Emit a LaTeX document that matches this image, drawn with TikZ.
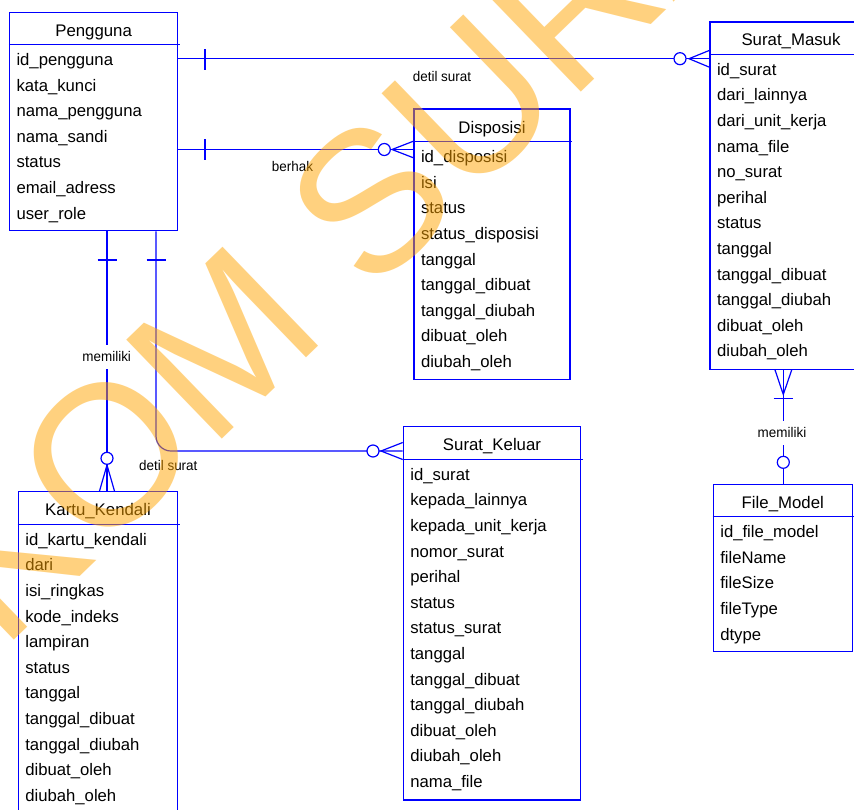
\documentclass[tikz,border=0pt]{standalone}
\usepackage{fontspec}
\setmainfont{Liberation Sans}
\newfontfamily\lblfont[FakeStretch=0.96]{Liberation Sans}
\definecolor{erblue}{RGB}{0,0,255}
\definecolor{wmark}{RGB}{255,165,0}

\newcommand\erentity[8]{%
  \node[ent, minimum width={#4-#2}, minimum height={#5-#3}] (#1) at ({(#2+#4)/2},{(#3+#5)/2}) {};
  \draw[rel] (#1.west |- 0,#6) -- ({#4+2},#6);
  \node[ttl] (#1-title) at ({(#2+#4)/2},{#6-8.5}) {#7};
  \foreach \a [count=\i from 0] in {#8} {\node[attr] (#1-a\i) at ({#2+6.8},{#6+21+\i*25.6}) {\a};}
}

\begin{document}
\begin{tikzpicture}[x=1pt,y=-1pt,
  ent/.style={draw=erblue, line width=1.2pt, inner sep=0pt},
  rel/.style={draw=erblue, line width=1.2pt},
  ttl/.style={anchor=base, inner sep=0pt, font=\fontsize{16.8}{18}\selectfont},
  attr/.style={anchor=base west, inner sep=0pt, font=\fontsize{16.7}{18}\selectfont},
  lbl/.style={inner sep=0pt, font=\lblfont\fontsize{14}{16}\selectfont},
  lblbg/.style={lbl, fill=white, inner ysep=7pt, inner xsep=1pt},
  ]
\useasboundingbox (0,0) rectangle (854,809);
\fill[white] (0,0) rectangle (854,809);

% entities
\erentity{pengguna}{9.5}{12.7}{177.7}{230.7}{44.5}{Pengguna}%
  {id\_pengguna,kata\_kunci,nama\_pengguna,nama\_sandi,status,email\_adress,user\_role}
\erentity{masuk}{710}{22}{872}{369.3}{54.3}{Surat\_Masuk}%
  {id\_surat,dari\_lainnya,dari\_unit\_kerja,nama\_file,no\_surat,perihal,status,tanggal,tanggal\_dibuat,tanggal\_diubah,dibuat\_oleh,diubah\_oleh}
\erentity{dispo}{414}{109}{570}{379.3}{141.7}{Disposisi}%
  {id\_disposisi,isi,status,status\_disposisi,tanggal,tanggal\_dibuat,tanggal\_diubah,dibuat\_oleh,diubah\_oleh}
\erentity{kartu}{18.3}{491.7}{177.7}{830}{524.3}{Kartu\_Kendali}%
  {id\_kartu\_kendali,dari,isi\_ringkas,kode\_indeks,lampiran,status,tanggal,tanggal\_dibuat,tanggal\_diubah,dibuat\_oleh,diubah\_oleh}
\erentity{keluar}{403.3}{426.7}{580.7}{800}{459.3}{Surat\_Keluar}%
  {id\_surat,kepada\_lainnya,kepada\_unit\_kerja,nomor\_surat,perihal,status,status\_surat,tanggal,tanggal\_dibuat,tanggal\_diubah,dibuat\_oleh,diubah\_oleh,nama\_file}
\erentity{filem}{713.3}{484.3}{852.3}{651.7}{516.7}{File\_Model}%
  {id\_file\_model,fileName,fileSize,fileType,dtype}

% connector 1: Pengguna - Surat_Masuk
\coordinate (r1o) at (680,58.7);
\coordinate (r1t) at (689,58.7);
\coordinate (r1b) at (205,59.5);
\draw[rel] (pengguna.east |- r1o) -- (masuk.west |- r1o);
\draw[rel] ([yshift=10.5pt]r1b) -- ([yshift=-10.5pt]r1b);
\draw[rel] (masuk.west |- 0,50.4) -- (r1t) -- (masuk.west |- 0,67.2);
\draw[rel, fill=white] (r1o) circle[radius=6];
\node[lbl] (l1) at (442,76.5) {detil surat};

% connector 2: Pengguna - Disposisi
\coordinate (r2o) at (384.3,149.5);
\coordinate (r2t) at (392,149.5);
\coordinate (r2b) at (205,149.8);
\draw[rel] (pengguna.east |- r2o) -- (dispo.west |- r2o);
\draw[rel] ([yshift=10.5pt]r2b) -- ([yshift=-10.5pt]r2b);
\draw[rel] (dispo.west |- 0,141.2) -- (r2t) -- (dispo.west |- 0,157.8);
\draw[rel, fill=white] (r2o) circle[radius=6];
\node[lbl] (l2) at (292.5,166.5) {berhak};

% connector 3: Pengguna - Kartu_Kendali
\coordinate (r3o) at (107,458.3);
\coordinate (r3t) at (107,465);
\coordinate (r3b) at (107,260);
\draw[rel] (pengguna.south -| r3o) -- (kartu.north -| r3o);
\draw[rel] ([xshift=-9.5pt]r3b) -- ([xshift=9.5pt]r3b);
\draw[rel] (kartu.north -| 99.5,0) -- (r3t) -- (kartu.north -| 114.5,0);
\node[lblbg] (l3) at (106.7,356.7) {memiliki};
\draw[rel, fill=white] (r3o) circle[radius=6];

% connector 4: Pengguna - Surat_Keluar
\coordinate (r4o) at (373,451);
\coordinate (r4t) at (381,451);
\coordinate (r4c) at (156,451);
\coordinate (r4b) at (156,260);
\draw[rel, rounded corners=15pt] (pengguna.south -| r4c) -- (r4c) -- (keluar.west |- r4c);
\draw[rel] ([xshift=-9.5pt]r4b) -- ([xshift=9.5pt]r4b);
\draw[rel] (keluar.west |- 0,442.5) -- (r4t) -- (keluar.west |- 0,459.5);
\draw[rel, fill=white] (r4o) circle[radius=6];
\node[lbl] (l4) at (168.3,465) {detil surat};

% connector 5: Surat_Masuk - File_Model
\coordinate (r5o) at (783.3,462.3);
\coordinate (r5t) at (783.3,394.5);
\coordinate (r5b) at (783.3,398.3);
\draw[rel] (masuk.south -| r5o) -- (filem.north -| r5o);
\draw[rel] (masuk.south -| 775,0) -- (r5t) -- (masuk.south -| 791.7,0);
\draw[rel] ([xshift=-9.7pt]r5b) -- ([xshift=9.7pt]r5b);
\node[lblbg] (l5) at (782,432.7) {memiliki};
\draw[rel, fill=white] (r5o) circle[radius=6];

% watermark
\node[rotate=44, anchor=base west, inner sep=0pt, text=wmark, text opacity=0.5,
  font=\fontsize{200}{240}\selectfont] (wm) at (-221.5,867.4) {STIKOM SURABAYA};
\end{tikzpicture}
\end{document}
